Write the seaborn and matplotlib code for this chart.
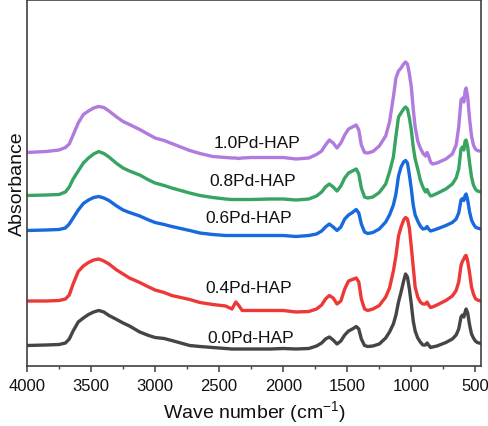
import numpy as np
import pandas as pd
import seaborn as sns
import matplotlib
matplotlib.use("Agg")
import matplotlib.pyplot as plt
from matplotlib.ticker import MultipleLocator

# ---------------- data ----------------
wavenumber = [4000, 3850, 3750, 3700, 3670, 3640, 3600, 3560, 3520, 3480, 3440, 3400,
              3360, 3300, 3250, 3200, 3120, 3050, 3000, 2930, 2870, 2800, 2730, 2650,
              2550, 2450, 2400, 2370, 2350, 2320, 2250, 2100, 2000, 1900, 1800, 1740,
              1700, 1670, 1640, 1610, 1580, 1550, 1520, 1490, 1460, 1430, 1410, 1390,
              1365, 1340, 1300, 1250, 1200, 1170, 1140, 1120, 1100, 1080, 1060, 1045,
              1030, 1015, 1000, 985, 970, 950, 930, 910, 890, 877, 865, 850,
              835, 800, 730, 680, 650, 630, 612, 600, 590, 580, 572, 560,
              545, 530, 515, 500, 485, 470, 455]

abs_00 = [19.5, 20, 20.5, 22, 26, 34, 43, 47, 50.5, 53, 54.5, 53,
          49.5, 45.5, 42, 39, 33, 29.5, 27.5, 26.5, 24.5, 22, 19.5, 18.5,
          17.5, 16.5, 16, 16, 16, 16, 16, 16, 16.5, 16, 16.5, 19,
          22, 26, 28, 25, 21, 24, 30, 34, 36, 38.5, 36, 26,
          19.5, 18.5, 19, 21, 27, 33, 41, 50, 63, 73, 84, 91,
          88, 76, 61, 44, 34, 27, 23, 20, 20, 22, 20, 17.5,
          18, 19, 22.5, 26, 30, 36, 48, 50, 48, 53, 56, 52,
          40, 31, 27, 24, 22.5, 22, 21.5]

abs_04 = [64, 64, 64.5, 66, 70, 81, 93.5, 99, 102.5, 105, 106, 104,
          101, 95, 91, 87, 82.5, 78, 75, 72.5, 69.5, 67.5, 65.5, 62.5,
          60.5, 59, 56, 63, 60, 54.5, 54.5, 54.5, 54.5, 53, 53.5, 56,
          60, 66, 69.5, 67, 61, 64, 76, 84, 85.5, 87, 83, 66,
          56, 54.5, 56, 59.5, 68, 77, 94, 109, 129, 138, 145, 147.5,
          146, 137, 118, 98, 78, 68, 63, 61, 61, 63, 60, 57.5,
          58, 60, 64.5, 69, 74.5, 83, 99.5, 104, 106, 109, 109.5, 104,
          92, 78, 71, 66.5, 65, 64.5, 64]

abs_06 = [134.5, 135, 135.5, 137, 141, 147, 155, 161.5, 165, 167.5, 168.5, 167,
          164.5, 159, 155, 152.5, 149, 145, 142.5, 140.5, 138.5, 136.5, 134.5, 132,
          130.5, 129.5, 129.5, 129.5, 129.5, 129.5, 129.5, 129.5, 129.5, 128.5, 129.5, 131,
          134, 138, 141, 138, 134.5, 138, 146, 150, 152.5, 155.5, 152, 141,
          133, 131.5, 132.5, 136, 143, 150, 160, 171, 189, 198, 203, 204.5,
          202, 190, 176, 160, 150, 144, 139, 136, 136.5, 138.5, 136, 134,
          134.5, 136, 139.5, 142.5, 146, 152, 165, 166.5, 164.5, 169.5, 171, 165,
          153, 145, 141, 138, 137, 136.5, 136]

abs_08 = [169.5, 170, 170.5, 173, 178, 186, 194, 202, 207, 211, 213.5, 211.5,
          208, 201.5, 197, 194, 190, 185, 182, 179.5, 177, 174.5, 172, 169.5,
          167.5, 166, 165.5, 165.5, 165.5, 165.5, 165.5, 166, 166, 165, 166, 169,
          173, 178, 181, 178, 174, 179, 187, 192, 194, 196, 191, 177,
          168, 167, 168, 172.5, 181, 193, 208, 229, 248, 252, 256, 258,
          256, 247, 235, 218, 206, 196, 185, 178, 173, 175.5, 172, 169,
          169.5, 171.5, 176, 181, 187, 196, 216, 218, 215, 224, 225, 218,
          202, 188, 180, 176, 174, 173.5, 173]

abs_10 = [212.5, 213.5, 215, 217.5, 221, 230, 242, 250.5, 254, 257, 258.5, 257.5,
          254, 248, 243.5, 240.5, 235.5, 230.5, 227, 224.5, 221.5, 218, 214.5, 211.5,
          208.5, 207.5, 207, 207, 206.5, 207, 207.5, 207.5, 207.5, 206, 207, 210.5,
          214, 220, 225, 222, 217, 222, 230, 236, 238, 240, 235, 220,
          212.5, 212, 213.5, 219, 229, 243, 268, 287, 294, 297, 301, 303,
          301, 291, 278, 256, 238, 224, 217, 212, 209, 212.5, 209, 203,
          201, 202, 206, 211, 220, 238, 265, 267, 263, 274, 277, 268,
          246, 229, 220, 216, 214.5, 214, 214]

samples = ["0.0Pd-HAP", "0.4Pd-HAP", "0.6Pd-HAP", "0.8Pd-HAP", "1.0Pd-HAP"]
label_x = [2250, 2273, 2266, 2242, 2203]
label_y = [27.7, 77.7, 147.7, 184.3, 222]

colors = ["#454545", "#ee3838", "#1868de", "#37a462", "#b07ade"]

# ---------------- build table ----------------
series = [abs_00, abs_04, abs_06, abs_08, abs_10]
df = pd.concat(
    [pd.DataFrame({"Wave number": wavenumber, "Absorbance": s, "Sample": name})
     for s, name in zip(series, samples)],
    ignore_index=True)

# ---------------- plot ----------------
sns.set_style("ticks")
plt.rcParams["font.family"] = ["Liberation Sans", "DejaVu Sans"]
plt.rcParams["mathtext.fontset"] = "custom"
plt.rcParams["mathtext.rm"] = "Liberation Sans"
plt.rcParams["mathtext.it"] = "Liberation Sans:italic"

fig = plt.figure(figsize=(4.88, 4.27), dpi=100)
ax = fig.add_axes([27 / 488, (427 - 367) / 427, (481 - 27) / 488, 366 / 427])

sns.lineplot(data=df, x="Wave number", y="Absorbance", hue="Sample",
             palette=dict(zip(samples, colors)), estimator=None, sort=False,
             linewidth=2.4, legend=False, ax=ax)
for ln in ax.lines:
    ln.set_solid_joinstyle("round")
    ln.set_solid_capstyle("round")

for name, lx, ly in zip(samples, label_x, label_y):
    ax.text(lx, ly, name, ha="center", va="center", fontsize=12.5, color="#111111")

ax.set_xlim(4000, 456)
ax.set_ylim(-1, 365)
ax.xaxis.set_major_locator(MultipleLocator(500))
ax.xaxis.set_minor_locator(MultipleLocator(250))
ax.set_yticks([])

spine_c = "#404040"
for sp in ax.spines.values():
    sp.set_visible(True)
    sp.set_color(spine_c)
    sp.set_linewidth(1.2)

ax.tick_params(axis="x", which="major", direction="out", length=4.5, width=1.1,
               color=spine_c, labelsize=12, labelcolor="#111111", pad=4,
               top=False)
ax.tick_params(axis="x", which="minor", direction="out", length=2.5, width=1.0,
               color=spine_c, top=False)

ax.set_xlabel("Wave number (cm$^{-1}$)", fontsize=14, color="#111111", labelpad=4)
ax.set_ylabel("Absorbance", fontsize=14, color="#111111", labelpad=1)

fig.savefig("out.png", dpi=100)
